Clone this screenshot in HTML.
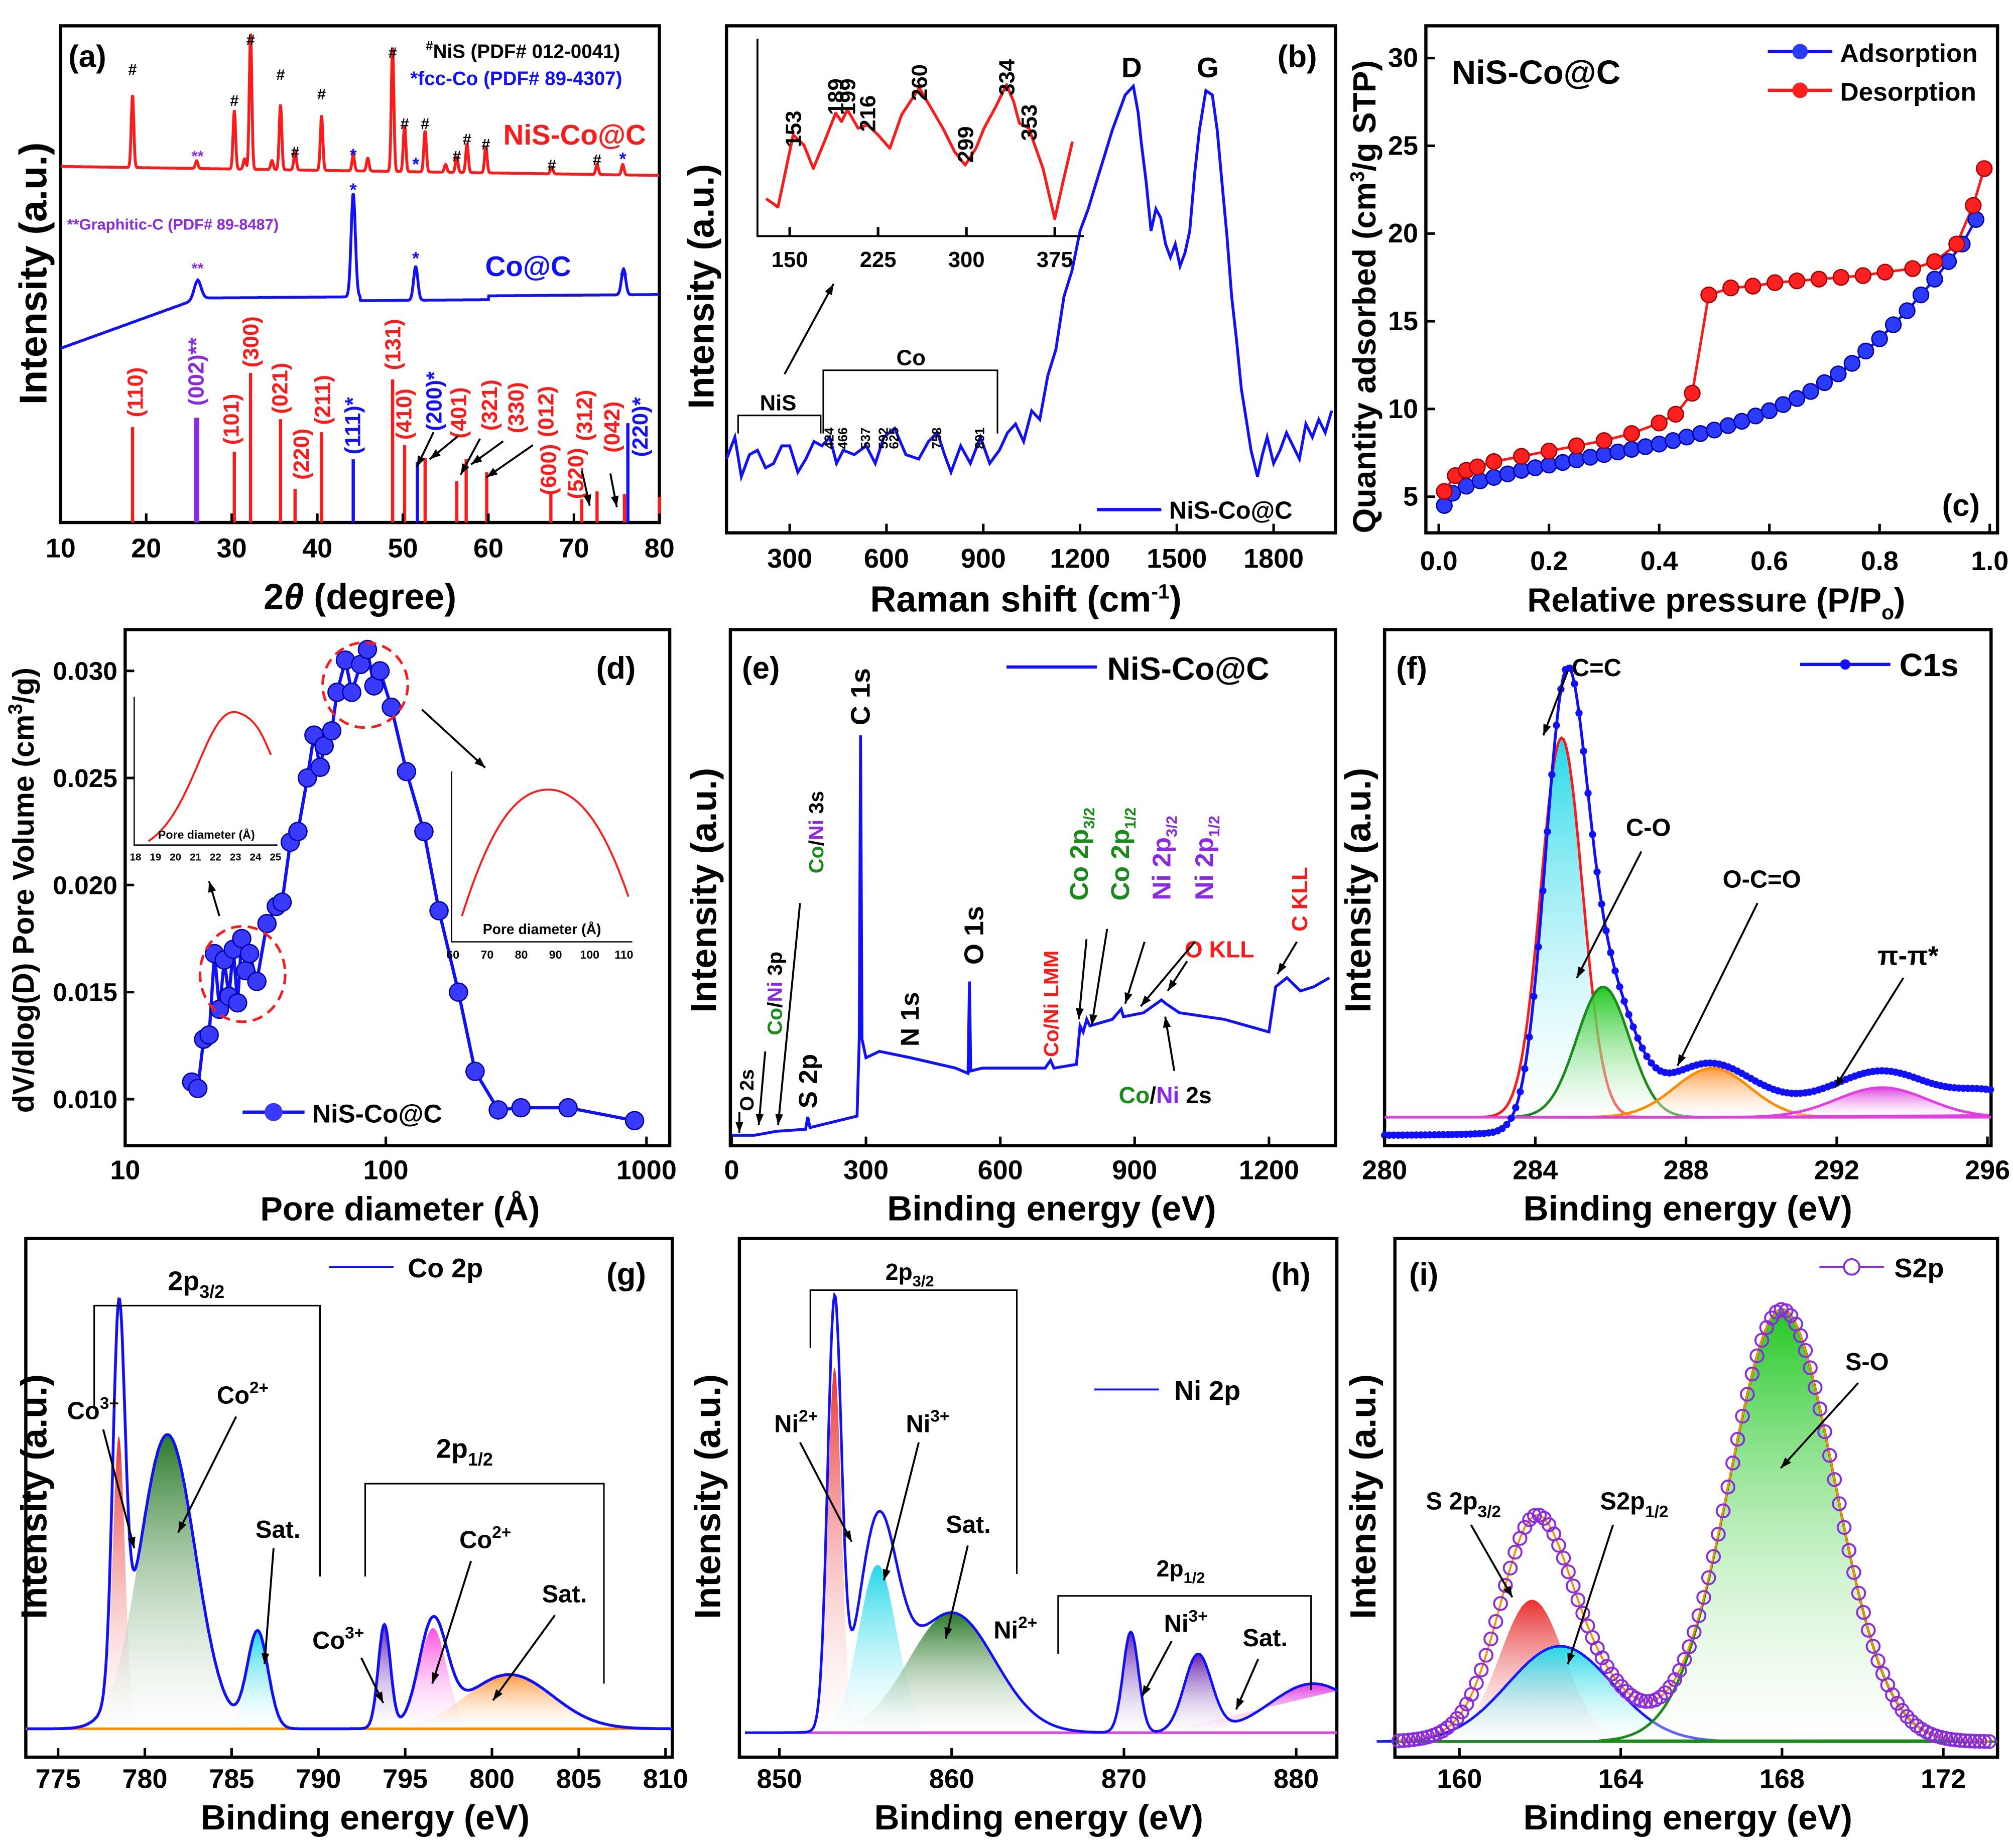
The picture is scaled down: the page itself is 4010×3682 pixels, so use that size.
<!DOCTYPE html>
<html><head><meta charset="utf-8"><style>
html,body{margin:0;padding:0;background:#fff}
svg{display:block}
text{font-family:"Liberation Sans",sans-serif;font-weight:bold}
</style></head><body>
<svg id="fig" xmlns="http://www.w3.org/2000/svg" width="4010" height="3682" viewBox="0 0 1560 1432.4" preserveAspectRatio="none">
<defs id="defs"></defs>
</svg>
<script>
const NS='http://www.w3.org/2000/svg';
const svg=document.getElementById('fig');
const defs=document.getElementById('defs');
function mk(tag,attrs,name,parent){
  const e=document.createElementNS(NS,tag);
  for(const k in attrs)e.setAttribute(k,attrs[k]);
  
  
  (parent||svg).appendChild(e);return e;
}
function T(x,y,html,name,size,color,anchor,rot){
  const a={x:x,y:y,'font-size':size||20,fill:color||'#000','text-anchor':anchor||'start'};
  if(rot)a.transform='rotate('+rot+' '+x+' '+y+')';
  const e=mk('text',a,name);e.innerHTML=html;return e;
}
function P(pts){return 'M'+pts.map(p=>p[0].toFixed(1)+','+p[1].toFixed(1)).join('L');}
function line(x1,y1,x2,y2,c,w,name){return mk('line',{x1:x1,y1:y1,x2:x2,y2:y2,stroke:c||'#000','stroke-width':w||2},name);}
function frame(x0,y0,x1,y1,name){mk('rect',{x:x0,y:y0,width:x1-x0,height:y1-y0,fill:'none',stroke:'#000','stroke-width':2.5},name);}
function grad(id,c){const g=mk('linearGradient',{id:id,x1:0,y1:0,x2:0,y2:1},'gradient-'+id,defs);
  mk('stop',{offset:'0',"stop-color":c},'stop',g);mk('stop',{offset:'1',"stop-color":'#fff','stop-opacity':0.3},'stop',g);}
function gauss(x,c,h,s){return h*Math.exp(-(x-c)*(x-c)/(2*s*s));}
function xticks(vals,fx,ybot,ylab,name,size){vals.forEach(v=>{const x=fx(v);line(x,ybot,x,ybot-7,'#000',2,name+'-tick');T(x,ylab,String(v),name+'-label',size||21,'#000','middle');});}
function arrow(x1,y1,x2,y2,c,name){line(x1,y1,x2,y2,c||'#000',1.5,name);
  const a=Math.atan2(y2-y1,x2-x1),L=9;
  mk('path',{d:P([[x2,y2],[x2-L*Math.cos(a-0.35),y2-L*Math.sin(a-0.35)],[x2-L*Math.cos(a+0.35),y2-L*Math.sin(a+0.35)]])+'Z',fill:c||'#000'},name+'-head');}
['cyan','green','orange','magenta','red','dkgreen','purple','pink'].forEach((n,i)=>grad('g'+n,['#22d8e8','#22c822','#ff9a40','#e040e0','#e83030','#2a7a2a','#6a2ab0','#ff50e0'][i]));

/* ================= (a) XRD ================= */
const xrdRedPos=[18.4,25.9,30.3,31.5,32.2,34.7,35.7,37.4,40.5,44.2,45.9,48.8,50.2,52.6,55,56.3,57.5,59.7,67.4,72.7,75.7];
const xrdRedInt=[56,6,45,8,105,7,50,14,42,12,10,96,36,32,6,12,22,20,5,8,8];
const xrdBluePos=[26,44.2,51.5,75.8];
const xrdBlueInt=[14,80,26,20];
const stickPos=[18.4,25.9,30.3,32.2,35.7,37.4,40.5,44.2,48.8,50.2,51.7,52.6,56.3,57.4,59.8,67.3,70.9,72.7,75.9,76.3,80];
const stickInt=[26.4,29,19.6,41.4,28.6,9.3,25,17.5,39.6,21.4,16.8,17.9,11.4,17.5,13.9,7.9,6.4,8.6,7.9,27.5,7.1];
const stickCol=['r','p','r','r','r','r','r','b','r','r','b','r','r','r','r','r','r','r','r','b','r'];
const xA=t=>47+(t-10)*6.63;
const yAs=v=>405-v*2.8;
frame(47,20,511,405,'panel-a-frame');
{let r=[],b=[];for(let t=10;t<=80;t+=0.04){let s=0;xrdRedPos.forEach((c,i)=>s+=gauss(t,c,xrdRedInt[i],0.15));
 r.push([xA(t),129+(t-10)*0.1-s]);
 let q=0;xrdBluePos.forEach((c,i)=>q+=gauss(t,c,xrdBlueInt[i],i==0?0.4:0.25));
 const base=t<26?270-(t-10)*2.4:231-(t-26)*0.05+(t>45&&t<60?3:0);
 b.push([xA(t),base-q]);}
 mk('path',{d:P(r),fill:'none',stroke:'#ff1a1a','stroke-width':2.2},'xrd-nis-co-c-trace');
 mk('path',{d:P(b),fill:'none',stroke:'#1010ff','stroke-width':2.2},'xrd-co-c-trace');}
stickPos.forEach((p,i)=>{const c=stickCol[i]=='r'?'#ff1a1a':stickCol[i]=='b'?'#1010ff':'#8a2be2';
 line(xA(p),405,xA(p),yAs(stickInt[i]),c,stickCol[i]=='p'?4:2.5,'reference-stick');});
xticks([10,20,30,40,50,60,70,80],xA,405,432,'xrd-x',21);
T(279,472,'2<tspan font-style="italic">θ</tspan> (degree)','xrd-x-axis-title',28,'#000','middle');
T(36,212,'Intensity (a.u.)','xrd-y-axis-title',30,'#000','middle',-90);
T(53,52,'(a)','panel-a-label',24);
T(330,45,'<tspan font-size="10" dy="-6">#</tspan><tspan dy="6">NiS (PDF# 012-0041)</tspan>','nis-pdf-legend',15);
T(318,66,'*fcc-Co (PDF# 89-4307)','fcc-co-pdf-legend',15,'#1010ff');
T(390,112,'NiS-Co@C','nis-co-c-label',22,'#ff1a1a');
T(52,178,'**Graphitic-C (PDF# 89-8487)','graphitic-c-legend',12,'#8a2be2');
T(376,214,'Co@C','co-c-label',22,'#1010ff');
[[18.4,58],[30.3,82],[32.2,35],[35.7,62],[37.4,122],[40.5,77],[48.8,45],[50.2,100],[52.6,100],[56.3,125],[57.5,112],[59.7,116],[67.4,132],[72.7,128]].forEach(h=>T(xA(h[0]),h[1],'#','hash-marker',12,'#000','middle'));
[[44.2,125],[51.5,132],[75.7,128],[44.2,152],[51.5,205],[75.8,220]].forEach(h=>T(xA(h[0]),h[1],'*','star-marker',14,'#1010ff','middle'));
T(xA(26),125,'**','graphite-marker',12,'#8a2be2','middle');T(xA(26),212,'**','graphite-marker',12,'#8a2be2','middle');
const hkl=[['(110)',18.7,304,'r'],['(002)**',25.8,288,'p'],['(101)',29.9,325,'r'],['(300)',32.2,265,'r'],['(021)',35.6,301,'r'],['(220)',38.1,352,'r'],['(211)',40.6,310,'r'],['(111)*',44.1,330,'b'],['(131)',48.8,267,'r'],['(410)',50.1,321,'r'],['(200)*',53.6,311,'b'],['(401)',56.5,320,'r'],['(321)',60.1,314,'r'],['(330)',63.2,316,'r'],['(012)',66.7,319,'r'],['(600)',67,364,'r'],['(520)',70.2,367,'r'],['(312)',71.2,322,'r'],['(042)',74.4,331,'r'],['(220)*',77.7,331,'b']];
hkl.forEach(h=>T(xA(h[1])+6,h[2],h[0],'hkl-label',17,h[3]=='r'?'#ff1a1a':h[3]=='b'?'#1010ff':'#8a2be2','middle',-90));
arrow(336,335,323,362,'#000','hkl-200-arrow');arrow(355,338,333,356,'#000','hkl-401-arrow');
arrow(372,340,357,368,'#000','hkl-321-arrow');arrow(390,342,365,360,'#000','hkl-330-arrow');
arrow(413,345,377,370,'#000','hkl-012-arrow');arrow(451,365,457,392,'#000','hkl-312-arrow');arrow(473,367,478,393,'#000','hkl-042-arrow');

/* ================= (b) Raman ================= */
const ramanX=[104,130,150,175,200,225,250,275,300,325,350,375,400,424,445,466,500,537,565,592,625,660,700,730,758,780,800,830,860,891,920,950,975,1000,1025,1050,1075,1100,1125,1150,1175,1200,1225,1250,1275,1300,1320,1340,1365,1380,1390,1405,1420,1435,1450,1465,1480,1495,1510,1525,1540,1555,1570,1590,1610,1625,1640,1655,1670,1685,1700,1715,1730,1750,1765,1780,1800,1820,1840,1860,1880,1900,1920,1940,1960,1980];
const ramanI=[13,18,9,14,15,11,12,16,16,10,13,17,16,18,12,15,14,16,12,18,20,14,13,17,19,14,10,16,12,18,12,15,19,21,17,24,22,32,38,50,56,65,70,76,82,88,92,96,98,92,85,76,65,70,68,62,59,62,57,60,65,78,88,97,96,88,76,64,50,40,29,22,15,9,14,18,12,15,19,16,13,21,18,22,19,24];
const insetX=[130,140,153,162,170,180,189,194,199,208,216,225,235,245,260,270,280,290,299,308,315,325,334,340,345,353,360,365,375,382,390];
const insetI=[20,15,58,52,38,55,71,66,73,62,64,58,50,70,86,74,62,48,40,50,62,75,88,78,65,62,48,38,8,30,54];
const xB=v=>537+v*0.25, yB=v=>400-v*3.4;
frame(563,20,1035,413,'panel-b-frame');
mk('path',{d:P(ramanX.map((x,i)=>[xB(x),yB(ramanI[i])])),fill:'none',stroke:'#1010ff','stroke-width':2.2},'raman-trace');
xticks([300,600,900,1200,1500,1800],xB,413,440,'raman-x',21);
T(795,474,'Raman shift (cm<tspan font-size="16" dy="-10">-1</tspan><tspan dy="10">)</tspan>','raman-x-axis-title',28,'#000','middle');
T(553,222,'Intensity (a.u.)','raman-y-axis-title',28,'#000','middle',-90);
T(990,52,'(b)','panel-b-label',24);
T(877,60,'D','d-band-label',22,'#000','middle');T(936,60,'G','g-band-label',22,'#000','middle');
mk('path',{d:'M572,336 V322 H636 V336',fill:'none',stroke:'#000','stroke-width':1.2},'nis-bracket');
T(603,318,'NiS','nis-region-label',17,'#000','middle');
mk('path',{d:'M638,336 V287 H773 V336',fill:'none',stroke:'#000','stroke-width':1.2},'co-bracket');
T(706,283,'Co','co-region-label',17,'#000','middle');
[424,466,537,592,625,758,891].forEach(v=>T(xB(v)+3,348,String(v),'raman-peak-label',10,'#000','start',-90));
line(850,395,900,395,'#1010ff',2.5,'raman-legend-line');T(906,402,'NiS-Co@C','raman-legend-label',19);
arrow(608,290,646,220,'#000','inset-pointer-arrow');
const xIn=v=>612+(v-150)*0.913, yIn=v=>180-v*1.3;
mk('path',{d:'M587,30 V183 H840',fill:'none',stroke:'#000','stroke-width':1.5},'inset-axes');
mk('path',{d:P(insetX.map((x,i)=>[xIn(x),yIn(insetI[i])])),fill:'none',stroke:'#ff1a1a','stroke-width':2.2,'stroke-linejoin':'round'},'raman-inset-trace');
xticks([150,225,300,375],xIn,183,207,'inset-x',17);
[[153,100],[189,75],[199,75],[216,88],[260,64],[299,112],[334,60],[353,95]].forEach(p=>T(xIn(p[0])+6,p[1],String(p[0]),'inset-peak-label',17,'#000','middle',-90));

/* ================= (c) BET ================= */
const adsP=[0.01,0.025,0.05,0.075,0.1,0.125,0.15,0.175,0.2,0.225,0.25,0.275,0.3,0.325,0.35,0.375,0.4,0.425,0.45,0.475,0.5,0.525,0.55,0.575,0.6,0.625,0.65,0.675,0.7,0.725,0.75,0.775,0.8,0.825,0.85,0.875,0.9,0.925,0.95,0.975];
const adsQ=[4.5,5.2,5.6,5.9,6.1,6.3,6.5,6.65,6.8,6.95,7.1,7.25,7.4,7.55,7.7,7.85,8.0,8.2,8.4,8.6,8.8,9.05,9.3,9.6,9.9,10.25,10.6,11.0,11.5,12.0,12.6,13.3,14.0,14.8,15.6,16.5,17.4,18.4,19.4,20.8];
const desP=[0.01,0.03,0.05,0.07,0.1,0.15,0.2,0.25,0.3,0.35,0.4,0.43,0.46,0.49,0.53,0.57,0.61,0.65,0.69,0.73,0.77,0.81,0.86,0.9,0.94,0.97,0.99];
const desQ=[5.3,6.2,6.5,6.7,7.0,7.3,7.6,7.9,8.2,8.6,9.2,9.7,10.9,16.5,16.9,17.0,17.2,17.3,17.4,17.5,17.6,17.8,18.0,18.4,19.4,21.6,23.7];
const xC=v=>1115+v*427, yC=v=>453-v*13.6;
frame(1105,20,1548,413,'panel-c-frame');
mk('path',{d:P(adsP.map((p,i)=>[xC(p),yC(adsQ[i])])),fill:'none',stroke:'#1010ff','stroke-width':2},'adsorption-line');
mk('path',{d:P(desP.map((p,i)=>[xC(p),yC(desQ[i])])),fill:'none',stroke:'#ff1a1a','stroke-width':2},'desorption-line');
adsP.forEach((p,i)=>mk('circle',{cx:xC(p),cy:yC(adsQ[i]),r:6,fill:'#2a3aff',stroke:'#0000a0','stroke-width':1},'adsorption-point'));
desP.forEach((p,i)=>mk('circle',{cx:xC(p),cy:yC(desQ[i]),r:6,fill:'#ff2020',stroke:'#a00000','stroke-width':1},'desorption-point'));
xticks(['0.0','0.2','0.4','0.6','0.8','1.0'],v=>xC(+v),413,442,'bet-x',21);
[5,10,15,20,25,30].forEach(v=>{line(1105,yC(v),1112,yC(v),'#000',2,'bet-y-tick');T(1099,yC(v)+7,String(v),'bet-y-label',21,'#000','end');});
T(1330,474,'Relative pressure (P/P<tspan font-size="16" dy="6">o</tspan><tspan dy="-6">)</tspan>','bet-x-axis-title',26,'#000','middle');
T(1066,230,'Quantity adsorbed (cm<tspan font-size="15" dy="-9">3</tspan><tspan dy="9">/g STP)</tspan>','bet-y-axis-title',25,'#000','middle',-90);
T(1125,65,'NiS-Co@C','bet-sample-label',26);
T(1505,400,'(c)','panel-c-label',24);
line(1370,40,1420,40,'#1010ff',2.5,'legend-adsorption-line');mk('circle',{cx:1395,cy:40,r:6,fill:'#2a3aff'},'legend-adsorption-marker');T(1426,48,'Adsorption','legend-adsorption-label',20);
line(1370,70,1420,70,'#ff1a1a',2.5,'legend-desorption-line');mk('circle',{cx:1395,cy:70,r:6,fill:'#ff2020'},'legend-desorption-marker');T(1426,78,'Desorption','legend-desorption-label',20);

/* ================= (d) Pore size ================= */
const poreD=[18,19,20,21,22,23,24,25,26,27,28,29,30,32,35,38,40,43,46,50,53,56,58,62,65,70,74,80,85,90,95,105,120,140,160,190,220,270,330,500,900];
const poreV=[0.0108,0.0105,0.0128,0.013,0.0168,0.0142,0.0165,0.0148,0.017,0.0145,0.0175,0.016,0.0168,0.0155,0.0182,0.019,0.0192,0.022,0.0225,0.025,0.027,0.0255,0.0265,0.0272,0.029,0.0305,0.029,0.0303,0.031,0.0293,0.03,0.0283,0.0253,0.0225,0.0188,0.015,0.0113,0.0095,0.0096,0.0096,0.009];
const xD=v=>97+202*Math.log10(v/10), yD=v=>852-(v-0.010)*16600;
frame(97,488,519,888,'panel-d-frame');
mk('path',{d:P(poreD.map((d,i)=>[xD(d),yD(poreV[i])])),fill:'none',stroke:'#1010ff','stroke-width':2.5},'pore-line');
poreD.forEach((d,i)=>mk('circle',{cx:xD(d),cy:yD(poreV[i]),r:7,fill:'#3a3aff',stroke:'#0000a0','stroke-width':1},'pore-point'));
[10,100,1000].forEach(v=>{line(xD(v),888,xD(v),881,'#000',2,'pore-x-tick');T(xD(v),914,String(v),'pore-x-label',21,'#000','middle');});
['0.010','0.015','0.020','0.025','0.030'].forEach(v=>{line(97,yD(+v),104,yD(+v),'#000',2,'pore-y-tick');T(91,yD(+v)+7,v,'pore-y-label',20,'#000','end');});
T(310,946,'Pore diameter (Å)','pore-x-axis-title',26,'#000','middle');
T(26,690,'dV/dlog(D) Pore Volume (cm<tspan font-size="15" dy="-9">3</tspan><tspan dy="9">/g)</tspan>','pore-y-axis-title',23,'#000','middle',-90);
T(462,526,'(d)','panel-d-label',24);
mk('ellipse',{cx:188,cy:755,rx:33,ry:37,fill:'none',stroke:'#ff1a1a','stroke-width':2,'stroke-dasharray':'8,5'},'micropore-circle');
mk('ellipse',{cx:283,cy:531,rx:33,ry:33,fill:'none',stroke:'#ff1a1a','stroke-width':2,'stroke-dasharray':'8,5'},'mesopore-circle');
arrow(170,710,162,683,'#000','micropore-arrow');arrow(327,550,376,595,'#000','mesopore-arrow');
line(188,862,236,862,'#1010ff',2.5,'pore-legend-line');mk('circle',{cx:212,cy:862,r:7,fill:'#3a3aff'},'pore-legend-marker');T(242,870,'NiS-Co@C','pore-legend-label',20);
mk('path',{d:'M104,540 V655 H215',fill:'none',stroke:'#000','stroke-width':1},'left-inset-axes');
mk('path',{d:'M115,652 C150,630 160,548 183,552 C200,556 205,575 210,585',fill:'none',stroke:'#ff1a1a','stroke-width':1.5},'left-inset-curve');
T(160,650,'Pore diameter (Å)','left-inset-x-title',9,'#000','middle');
[18,19,20,21,22,23,24,25].forEach((v,i)=>T(105+i*15.5,667,String(v),'left-inset-x-label',8,'#000','middle'));
mk('path',{d:'M350,598 V730 H490',fill:'none',stroke:'#000','stroke-width':1},'right-inset-axes');
mk('path',{d:'M358,710 C380,640 400,612 425,612 C455,612 475,660 487,695',fill:'none',stroke:'#ff1a1a','stroke-width':1.5},'right-inset-curve');
T(420,724,'Pore diameter (Å)','right-inset-x-title',11,'#000','middle');
[60,70,80,90,100,110].forEach((v,i)=>T(351+i*26.5,743,String(v),'right-inset-x-label',9,'#000','middle'));

/* ================= (e) XPS survey ================= */
const surveyBE=[0,50,100,165,170,175,280,285,288,291,300,330,400,500,528,531,534,560,700,712,720,770,778,785,793,800,850,870,875,920,960,970,1000,1100,1200,1215,1240,1270,1300,1335];
const surveyI=[2.5,2.5,3.5,4,7,4.4,7.2,26,100,26,21.4,23,21.4,18.9,17.6,40,18.2,18.9,18.9,20.8,18.9,19.8,29.2,27.7,30.8,29.2,30.8,33.3,31.4,32.4,35.5,34.6,32.4,30.8,27.7,38.7,40.9,37.7,38.7,40.9];
const xE=v=>567+v*0.347, yE=v=>888-v*3.18;
frame(566,488,1035,888,'panel-e-frame');
mk('path',{d:P(surveyBE.map((b,i)=>[xE(b),yE(surveyI[i])])),fill:'none',stroke:'#1010ff','stroke-width':2.2},'survey-trace');
xticks([0,300,600,900,1200],xE,888,914,'survey-x',21);
T(815,946,'Binding energy (eV)','survey-x-axis-title',27,'#000','middle');
T(555,690,'Intensity (a.u.)','survey-y-axis-title',28,'#000','middle',-90);
T(575,526,'(e)','panel-e-label',24);
line(780,517,850,517,'#1010ff',2.5,'survey-legend-line');T(858,527,'NiS-Co@C','survey-legend-label',25);
const G='#1a8a1a',V='#8a2be2',R='#ff1a1a';
T(584,845,'O 2s','o2s-label',15,'#000','middle',-90);
T(606,770,'<tspan fill="'+G+'">Co</tspan>/<tspan fill="'+V+'">Ni</tspan> 3p','coni-3p-label',16,'#000','middle',-90);
T(638,645,'<tspan fill="'+G+'">Co</tspan>/<tspan fill="'+V+'">Ni</tspan> 3s','coni-3s-label',16,'#000','middle',-90);
T(633,838,'S 2p','s2p-label',20,'#000','middle',-90);
T(674,540,'C 1s','c1s-label',21,'#000','middle',-90);
T(712,790,'N 1s','n1s-label',20,'#000','middle',-90);
T(762,725,'O 1s','o1s-label',21,'#000','middle',-90);
T(820,778,'Co/Ni LMM','coni-lmm-label',16,R,'middle',-90);
T(843,662,'Co 2p<tspan font-size="12" dy="5">3/2</tspan>','co2p32-label',20,G,'middle',-90);
T(875,662,'Co 2p<tspan font-size="12" dy="5">1/2</tspan>','co2p12-label',20,G,'middle',-90);
T(907,665,'Ni 2p<tspan font-size="12" dy="5">3/2</tspan>','ni2p32-label',20,V,'middle',-90);
T(940,665,'Ni 2p<tspan font-size="12" dy="5">1/2</tspan>','ni2p12-label',20,V,'middle',-90);
T(945,742,'O KLL','okll-label',18,R,'middle');
T(1013,697,'C KLL','ckll-label',17,R,'middle',-90);
T(903,855,'<tspan fill="'+G+'">Co</tspan>/<tspan fill="'+V+'">Ni</tspan> 2s','coni-2s-label',18,'#000','middle');
arrow(573,862,573,878,'#000','o2s-arrow');arrow(593,815,588,872,'#000','3p-arrow');arrow(620,700,603,872,'#000','3s-arrow');
arrow(842,728,836,790,'#000','co2p32-arrow');arrow(858,720,846,795,'#000','co2p12-arrow');
arrow(887,730,872,778,'#000','ni2p32-arrow');arrow(926,730,884,780,'#000','ni2p12-arrow');
arrow(920,745,905,768,'#000','okll-arrow');arrow(1005,730,990,755,'#000','ckll-arrow');arrow(910,830,903,788,'#000','2s-arrow');

/* ================= (f) C1s ================= */
const c1sCenter=[284.7,285.8,288.7,293.2];
const c1sHeight=[294,101,38,23];
const c1sSigma=[0.55,0.7,1.0,1.2];
const c1sFill=['cyan','green','orange','magenta'];
const c1sStroke=['#ff1a1a','#1a8a1a','#ff8c00','#e040e0'];
const envCenter=[284.8,285.9,288.6,293.2,296];
const envHeight=[325,95,32,25,9];
const envSigma=[0.55,0.7,1.1,1.2,0.8];
const xF=v=>1073+(v-280)*29.2, yF=v=>866-v;
frame(1073,488,1543,888,'panel-f-frame');
c1sCenter.forEach((c,i)=>{let pts=[];for(let x=c-4*c1sSigma[i];x<=Math.min(296.1,c+4*c1sSigma[i]);x+=0.05)pts.push([xF(x),yF(gauss(x,c,c1sHeight[i],c1sSigma[i]))]);
 mk('path',{d:P(pts)+'Z',fill:'url(#g'+c1sFill[i]+')',stroke:c1sStroke[i],'stroke-width':2},'c1s-component-'+i);});
line(1073,866,1543,866,'#e040e0',2,'c1s-baseline');
{let pts=[];for(let x=280;x<=296.1;x+=0.06){let s=0;envCenter.forEach((c,i)=>s+=gauss(x,c,envHeight[i],envSigma[i]));pts.push([xF(x),880-25/(1+Math.exp(-(x-285.5)))-s]);}
 mk('path',{d:P(pts),fill:'none',stroke:'#1010ff','stroke-width':2.2},'c1s-envelope');
 pts.forEach((p,i)=>{if(i%2==0)mk('circle',{cx:p[0],cy:p[1],r:2.8,fill:'#1010ff'},'c1s-data-point');});}
xticks([280,284,288,292,296],xF,888,914,'c1s-x',21);
T(1308,946,'Binding energy (eV)','c1s-x-axis-title',27,'#000','middle');
T(1062,690,'Intensity (a.u.)','c1s-y-axis-title',28,'#000','middle',-90);
T(1082,526,'(f)','panel-f-label',24);
line(1395,515,1465,515,'#1010ff',2.5,'c1s-legend-line');mk('circle',{cx:1430,cy:515,r:4,fill:'#1010ff'},'c1s-legend-marker');T(1472,524,'C1s','c1s-legend-label',25);
T(1218,524,'C=C','cc-label',19);arrow(1215,520,1196,570,'#000','cc-arrow');
T(1260,648,'C-O','co-label',19);arrow(1272,660,1222,758,'#000','co-arrow');
T(1335,688,'O-C=O','oco-label',19);arrow(1362,700,1300,826,'#000','oco-arrow');
T(1455,748,'π-π*','pi-label',21);arrow(1475,758,1422,843,'#000','pi-arrow');

/* ================= (g) Co 2p ================= */
const coCenter=[778.5,781.3,786.5,793.8,796.6,801];
const coHeight=[227,228,75,80,78,42];
const coSigma=[0.35,1.6,0.6,0.35,0.8,2.5];
const coFill=['red','dkgreen','cyan','purple','pink','orange'];
const xG=v=>45+(v-775)*13.45, yG=v=>1340-v;
frame(20,960,521,1362,'panel-g-frame');
coCenter.forEach((c,i)=>{let pts=[];for(let x=c-3.5*coSigma[i];x<=c+3.5*coSigma[i];x+=0.05)pts.push([xG(x),yG(gauss(x,c,coHeight[i],coSigma[i]))]);
 mk('path',{d:P(pts)+'Z',fill:'url(#g'+coFill[i]+')',stroke:'none'},'co2p-component-'+i);});
line(20,1340,521,1340,'#ff8c00',2,'co2p-baseline');
{let pts=[];for(let x=773.2;x<=810.4;x+=0.05){let s=0;coCenter.forEach((c,i)=>s+=gauss(x,c,coHeight[i]*(i==0?1.25:1),coSigma[i]));pts.push([xG(x),yG(s)]);}
 mk('path',{d:P(pts),fill:'none',stroke:'#1010ff','stroke-width':2.2},'co2p-envelope');}
xticks([775,780,785,790,795,800,805,810],xG,1362,1386,'co2p-x',21);
T(283,1418,'Binding energy (eV)','co2p-x-axis-title',27,'#000','middle');
T(36,1160,'Intensity (a.u.)','co2p-y-axis-title',28,'#000','middle',-90);
T(470,996,'(g)','panel-g-label',24);
line(255,982,305,982,'#1010ff',1.5,'co2p-legend-line');T(316,990,'Co 2p','co2p-legend-label',21);
mk('path',{d:'M73,1092 V1012 H248 V1222',fill:'none',stroke:'#000','stroke-width':1.2},'co2p32-bracket');
T(152,1000,'2p<tspan font-size="14" dy="6">3/2</tspan>','co2p32-bracket-label',21,'#000','middle');
mk('path',{d:'M283,1222 V1150 H468 V1305',fill:'none',stroke:'#000','stroke-width':1.2},'co2p12-bracket');
T(360,1130,'2p<tspan font-size="14" dy="6">1/2</tspan>','co2p12-bracket-label',21,'#000','middle');
T(52,1100,'Co<tspan font-size="13" dy="-8">3+</tspan>','co3p-label-1',19);arrow(80,1108,104,1200,'#000','co3p-arrow-1');
T(168,1088,'Co<tspan font-size="13" dy="-8">2+</tspan>','co2p-label-1',19);arrow(183,1098,138,1188,'#000','co2p-arrow-1');
T(198,1192,'Sat.','sat-label-1',19);arrow(212,1200,205,1290,'#000','sat-arrow-1');
T(242,1278,'Co<tspan font-size="13" dy="-8">3+</tspan>','co3p-label-2',19);arrow(280,1285,297,1320,'#000','co3p-arrow-2');
T(356,1200,'Co<tspan font-size="13" dy="-8">2+</tspan>','co2p-label-2',19);arrow(365,1210,335,1305,'#000','co2p-arrow-2');
T(420,1242,'Sat.','sat-label-2',19);arrow(430,1252,382,1318,'#000','sat-arrow-2');

/* ================= (h) Ni 2p ================= */
const niCenter=[853.2,855.7,860,870.4,874.3,881];
const niHeight=[283,130,93,78,60,38];
const niSigma=[0.4,1.1,2.5,0.45,0.8,2.5];
const niFill=['red','cyan','dkgreen','purple','purple','magenta'];
const xH=v=>604+(v-850)*13.35, yH=v=>1343-v;
frame(573,960,1036,1362,'panel-h-frame');
niCenter.forEach((c,i)=>{let pts=[];for(let x=c-3.5*niSigma[i];x<=Math.min(882.4,c+3.5*niSigma[i]);x+=0.05)pts.push([xH(x),yH(gauss(x,c,niHeight[i],niSigma[i]))]);
 mk('path',{d:P(pts)+'Z',fill:'url(#g'+niFill[i]+')',stroke:'none'},'ni2p-component-'+i);});
line(600,1343,1036,1343,'#e040e0',2,'ni2p-baseline');
{let pts=[];for(let x=848;x<=882.4;x+=0.05){let s=0;niCenter.forEach((c,i)=>s+=gauss(x,c,niHeight[i]*(i==0?1.15:i==1?1.15:1),niSigma[i]));pts.push([xH(x),yH(s)]);}
 mk('path',{d:P(pts),fill:'none',stroke:'#1010ff','stroke-width':2},'ni2p-envelope');}
xticks([850,860,870,880],xH,1362,1386,'ni2p-x',21);
T(805,1418,'Binding energy (eV)','ni2p-x-axis-title',27,'#000','middle');
T(558,1160,'Intensity (a.u.)','ni2p-y-axis-title',28,'#000','middle',-90);
T(985,996,'(h)','panel-h-label',24);
line(848,1077,898,1077,'#1010ff',1.5,'ni2p-legend-line');T(910,1085,'Ni 2p','ni2p-legend-label',21);
mk('path',{d:'M628,1045 V1000 H788 V1220',fill:'none',stroke:'#000','stroke-width':1.2},'ni2p32-bracket');
T(705,992,'2p<tspan font-size="12" dy="5">3/2</tspan>','ni2p32-bracket-label',18,'#000','middle');
mk('path',{d:'M820,1282 V1237 H1016 V1310',fill:'none',stroke:'#000','stroke-width':1.2},'ni2p12-bracket');
T(915,1222,'2p<tspan font-size="12" dy="5">1/2</tspan>','ni2p12-bracket-label',18,'#000','middle');
T(600,1110,'Ni<tspan font-size="13" dy="-8">2+</tspan>','ni2-label-1',19);arrow(620,1118,660,1195,'#000','ni2-arrow-1');
T(702,1110,'Ni<tspan font-size="13" dy="-8">3+</tspan>','ni3-label-1',19);arrow(712,1118,685,1225,'#000','ni3-arrow-1');
T(733,1188,'Sat.','sat-label-h1',19);arrow(750,1198,733,1270,'#000','sat-arrow-h1');
T(770,1270,'Ni<tspan font-size="13" dy="-8">2+</tspan>','ni2-label-2',19);
T(902,1265,'Ni<tspan font-size="13" dy="-8">3+</tspan>','ni3-label-2',19);arrow(908,1272,885,1315,'#000','ni3-arrow-2');
T(963,1276,'Sat.','sat-label-h2',19);arrow(975,1286,958,1325,'#000','sat-arrow-h2');

/* ================= (i) S 2p ================= */
const sCenter=[161.8,162.5,168];
const sHeight=[110,74,335];
const sSigma=[0.8,1.3,1.3];
const sFill=['red','cyan','green'];
const sStroke=['none','#1a1aff','#1a8a1a'];
const xI=v=>1131+(v-160)*31.25, yI=v=>1350-v;
frame(1081,960,1548,1362,'panel-i-frame');
sCenter.forEach((c,i)=>{let pts=[];for(let x=c-3.5*sSigma[i];x<=c+3.5*sSigma[i];x+=0.05)pts.push([xI(x),yI(gauss(x,c,sHeight[i],sSigma[i]))]);
 mk('path',{d:P(pts)+'Z',fill:'url(#g'+sFill[i]+')',stroke:sStroke[i],'stroke-width':2},'s2p-component-'+i);});
line(1081,1350,1548,1350,'#1a8a1a',2,'s2p-baseline');
{let pts=[];for(let x=158.5;x<=173.2;x+=0.12){let s=0;sCenter.forEach((c,i)=>s+=gauss(x,c,sHeight[i],sSigma[i]));pts.push([xI(x),yI(s)]);}
 mk('path',{d:P(pts),fill:'none',stroke:'#ff8c00','stroke-width':1.5},'s2p-envelope');
 pts.forEach(p=>mk('circle',{cx:p[0],cy:p[1],r:5,fill:'none',stroke:'#8a2be2','stroke-width':1.5},'s2p-data-point'));}
xticks([160,164,168,172],xI,1362,1386,'s2p-x',21);
T(1308,1418,'Binding energy (eV)','s2p-x-axis-title',27,'#000','middle');
T(1066,1160,'Intensity (a.u.)','s2p-y-axis-title',28,'#000','middle',-90);
T(1092,996,'(i)','panel-i-label',24);
line(1410,982,1460,982,'#8a2be2',1.5,'s2p-legend-line');mk('circle',{cx:1435,cy:982,r:6,fill:'#fff',stroke:'#8a2be2','stroke-width':1.5},'s2p-legend-marker');T(1468,990,'S2p','s2p-legend-label',21);
T(1105,1170,'S 2p<tspan font-size="13" dy="6">3/2</tspan>','s2p32-label',19);arrow(1140,1182,1172,1238,'#000','s2p32-arrow');
T(1240,1170,'S2p<tspan font-size="13" dy="6">1/2</tspan>','s2p12-label',19);arrow(1250,1182,1215,1290,'#000','s2p12-arrow');
T(1430,1062,'S-O','so-label',19);arrow(1440,1072,1380,1138,'#000','so-arrow');
</script>
</body></html>
